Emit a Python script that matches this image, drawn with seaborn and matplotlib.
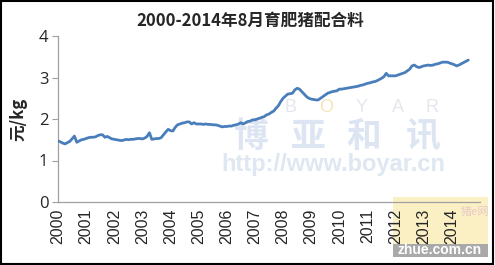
import numpy as np
import pandas as pd
import matplotlib
matplotlib.use("Agg")
import matplotlib.pyplot as plt
import seaborn as sns

title = "2000-2014年8月育肥猪配合料"
ylabel = "元/kg"
year_labels = [str(y) for y in range(2000, 2015)]

# monthly price (元/kg), Jan 2000 .. Aug 2014
v2000 = [1.47, 1.45, 1.42, 1.40, 1.43, 1.46, 1.52, 1.59, 1.44, 1.47, 1.50, 1.51]
v2001 = [1.53, 1.55, 1.56, 1.56, 1.57, 1.60, 1.62, 1.62, 1.56, 1.58, 1.55, 1.52]
v2002 = [1.51, 1.50, 1.49, 1.48, 1.49, 1.51, 1.50, 1.51, 1.51, 1.52, 1.53, 1.53]
v2003 = [1.52, 1.54, 1.58, 1.67, 1.51, 1.52, 1.53, 1.53, 1.55, 1.62, 1.69, 1.75]
v2004 = [1.72, 1.71, 1.80, 1.86, 1.88, 1.90, 1.91, 1.93, 1.93, 1.88, 1.91, 1.88]
v2005 = [1.88, 1.88, 1.87, 1.88, 1.87, 1.87, 1.86, 1.86, 1.85, 1.83, 1.81, 1.82]
v2006 = [1.82, 1.83, 1.83, 1.85, 1.86, 1.88, 1.91, 1.88, 1.91, 1.94, 1.95, 1.98]
v2007 = [1.98, 2.00, 2.02, 2.04, 2.06, 2.10, 2.12, 2.16, 2.19, 2.26, 2.32, 2.42]
v2008 = [2.50, 2.55, 2.60, 2.61, 2.62, 2.70, 2.74, 2.72, 2.66, 2.60, 2.54, 2.50]
v2009 = [2.48, 2.47, 2.46, 2.46, 2.50, 2.54, 2.58, 2.62, 2.64, 2.66, 2.67, 2.68]
v2010 = [2.72, 2.72, 2.73, 2.74, 2.75, 2.76, 2.77, 2.78, 2.79, 2.81, 2.82, 2.84]
v2011 = [2.86, 2.87, 2.89, 2.90, 2.92, 2.95, 2.98, 3.02, 3.10, 3.04, 3.04, 3.04]
v2012 = [3.04, 3.06, 3.08, 3.10, 3.12, 3.16, 3.20, 3.28, 3.30, 3.26, 3.24, 3.26]
v2013 = [3.28, 3.29, 3.30, 3.29, 3.30, 3.32, 3.33, 3.35, 3.37, 3.37, 3.37, 3.35]
v2014 = [3.33, 3.31, 3.28, 3.30, 3.33, 3.36, 3.39, 3.42]

values = (v2000 + v2001 + v2002 + v2003 + v2004 + v2005 + v2006 + v2007 +
          v2008 + v2009 + v2010 + v2011 + v2012 + v2013 + v2014)
df = pd.DataFrame({"t": np.arange(len(values)) / 12.0, "price": values})

sns.set_theme(style="white")
plt.rcParams['font.family'] = ['Noto Sans CJK SC', 'DejaVu Sans']

W, H = 495, 265
fig = plt.figure(figsize=(W / 100, H / 100), dpi=100)
ax = fig.add_axes([58 / W, 63 / H, 422 / W, 166 / H])
ax.patch.set_alpha(0)

def fx(px):
    return px / W

def fy(py):
    return 1 - py / H

# zhue corner logo (background)
fig.patches.append(plt.Rectangle((fx(393), fy(257)), fx(95), (60 / H), transform=fig.transFigure,
                                 facecolor="#fbf0c4", edgecolor="none", zorder=-2))
fig.patches.append(plt.Rectangle((fx(393), fy(257)), fx(95), (13 / H), transform=fig.transFigure,
                                 facecolor="#a9a9a9", edgecolor="none", zorder=-1))
fig.text(fx(440), fy(250.5), "zhue.com.cn", ha="center", va="center", fontsize=10,
         fontweight="bold", color="white", family=["Liberation Sans"], zorder=-1)
fig.text(fx(475), fy(212), "猪e网", ha="center", va="center", fontsize=8,
         color="#e8c9c9", zorder=-1)

# faint watermark
for ch, px in zip("BOYAR", [290, 326, 362, 398, 432]):
    fig.text(fx(px), fy(108), ch, ha="center", va="center", fontsize=13,
             color="#f6e3b8" if ch == "O" else "#e4e7ee",
             family=["Liberation Sans"], zorder=-1)
for ch, px in zip("博亚和讯", [251, 308, 364, 423]):
    fig.text(fx(px), fy(137), ch, ha="center", va="center",
             fontsize=25, fontweight="bold", color="#dce5f1", zorder=-1)
fig.text(fx(333), fy(164), "http://www.boyar.cn", ha="center",
         va="center", fontsize=17, fontweight="bold", color="#dfe7f2",
         family=["Liberation Sans"], zorder=-1)

sns.lineplot(data=df, x="t", y="price", ax=ax, color="#4a7ebb", linewidth=2.0, zorder=3)

ax.set_xlim(0, 15)
ax.set_ylim(0, 4)
ax.set_yticks([0, 1, 2, 3, 4])
ax.set_yticklabels(["0", "1", "2", "3", "4"], fontsize=12, family=["Open Sans"])
ax.set_xticks(np.arange(15))
ax.set_xticklabels(year_labels, rotation=90, fontsize=11.5, family=["Liberation Sans"])
ax.tick_params(axis="y", length=4, color="#a0a0a0", width=0.8, pad=3, left=True)
ax.tick_params(axis="x", length=0, pad=5)
for s in ["top", "right"]:
    ax.spines[s].set_visible(False)
for s in ["left", "bottom"]:
    ax.spines[s].set_color("#a0a0a0")
    ax.spines[s].set_linewidth(0.9)
ax.set_xlabel("")
ax.set_ylabel(ylabel, fontsize=12, fontweight="bold", labelpad=8)
ax.grid(False)

fig.text(fx(250), fy(21), title, ha="center", va="center", fontsize=12, fontweight="bold")

# outer border
fig.patches.append(plt.Rectangle((0.003, 0.005), 0.993, 0.99, transform=fig.transFigure,
                                 fill=False, edgecolor="black", linewidth=1.5, zorder=5))

fig.savefig("out.png", dpi=100)
